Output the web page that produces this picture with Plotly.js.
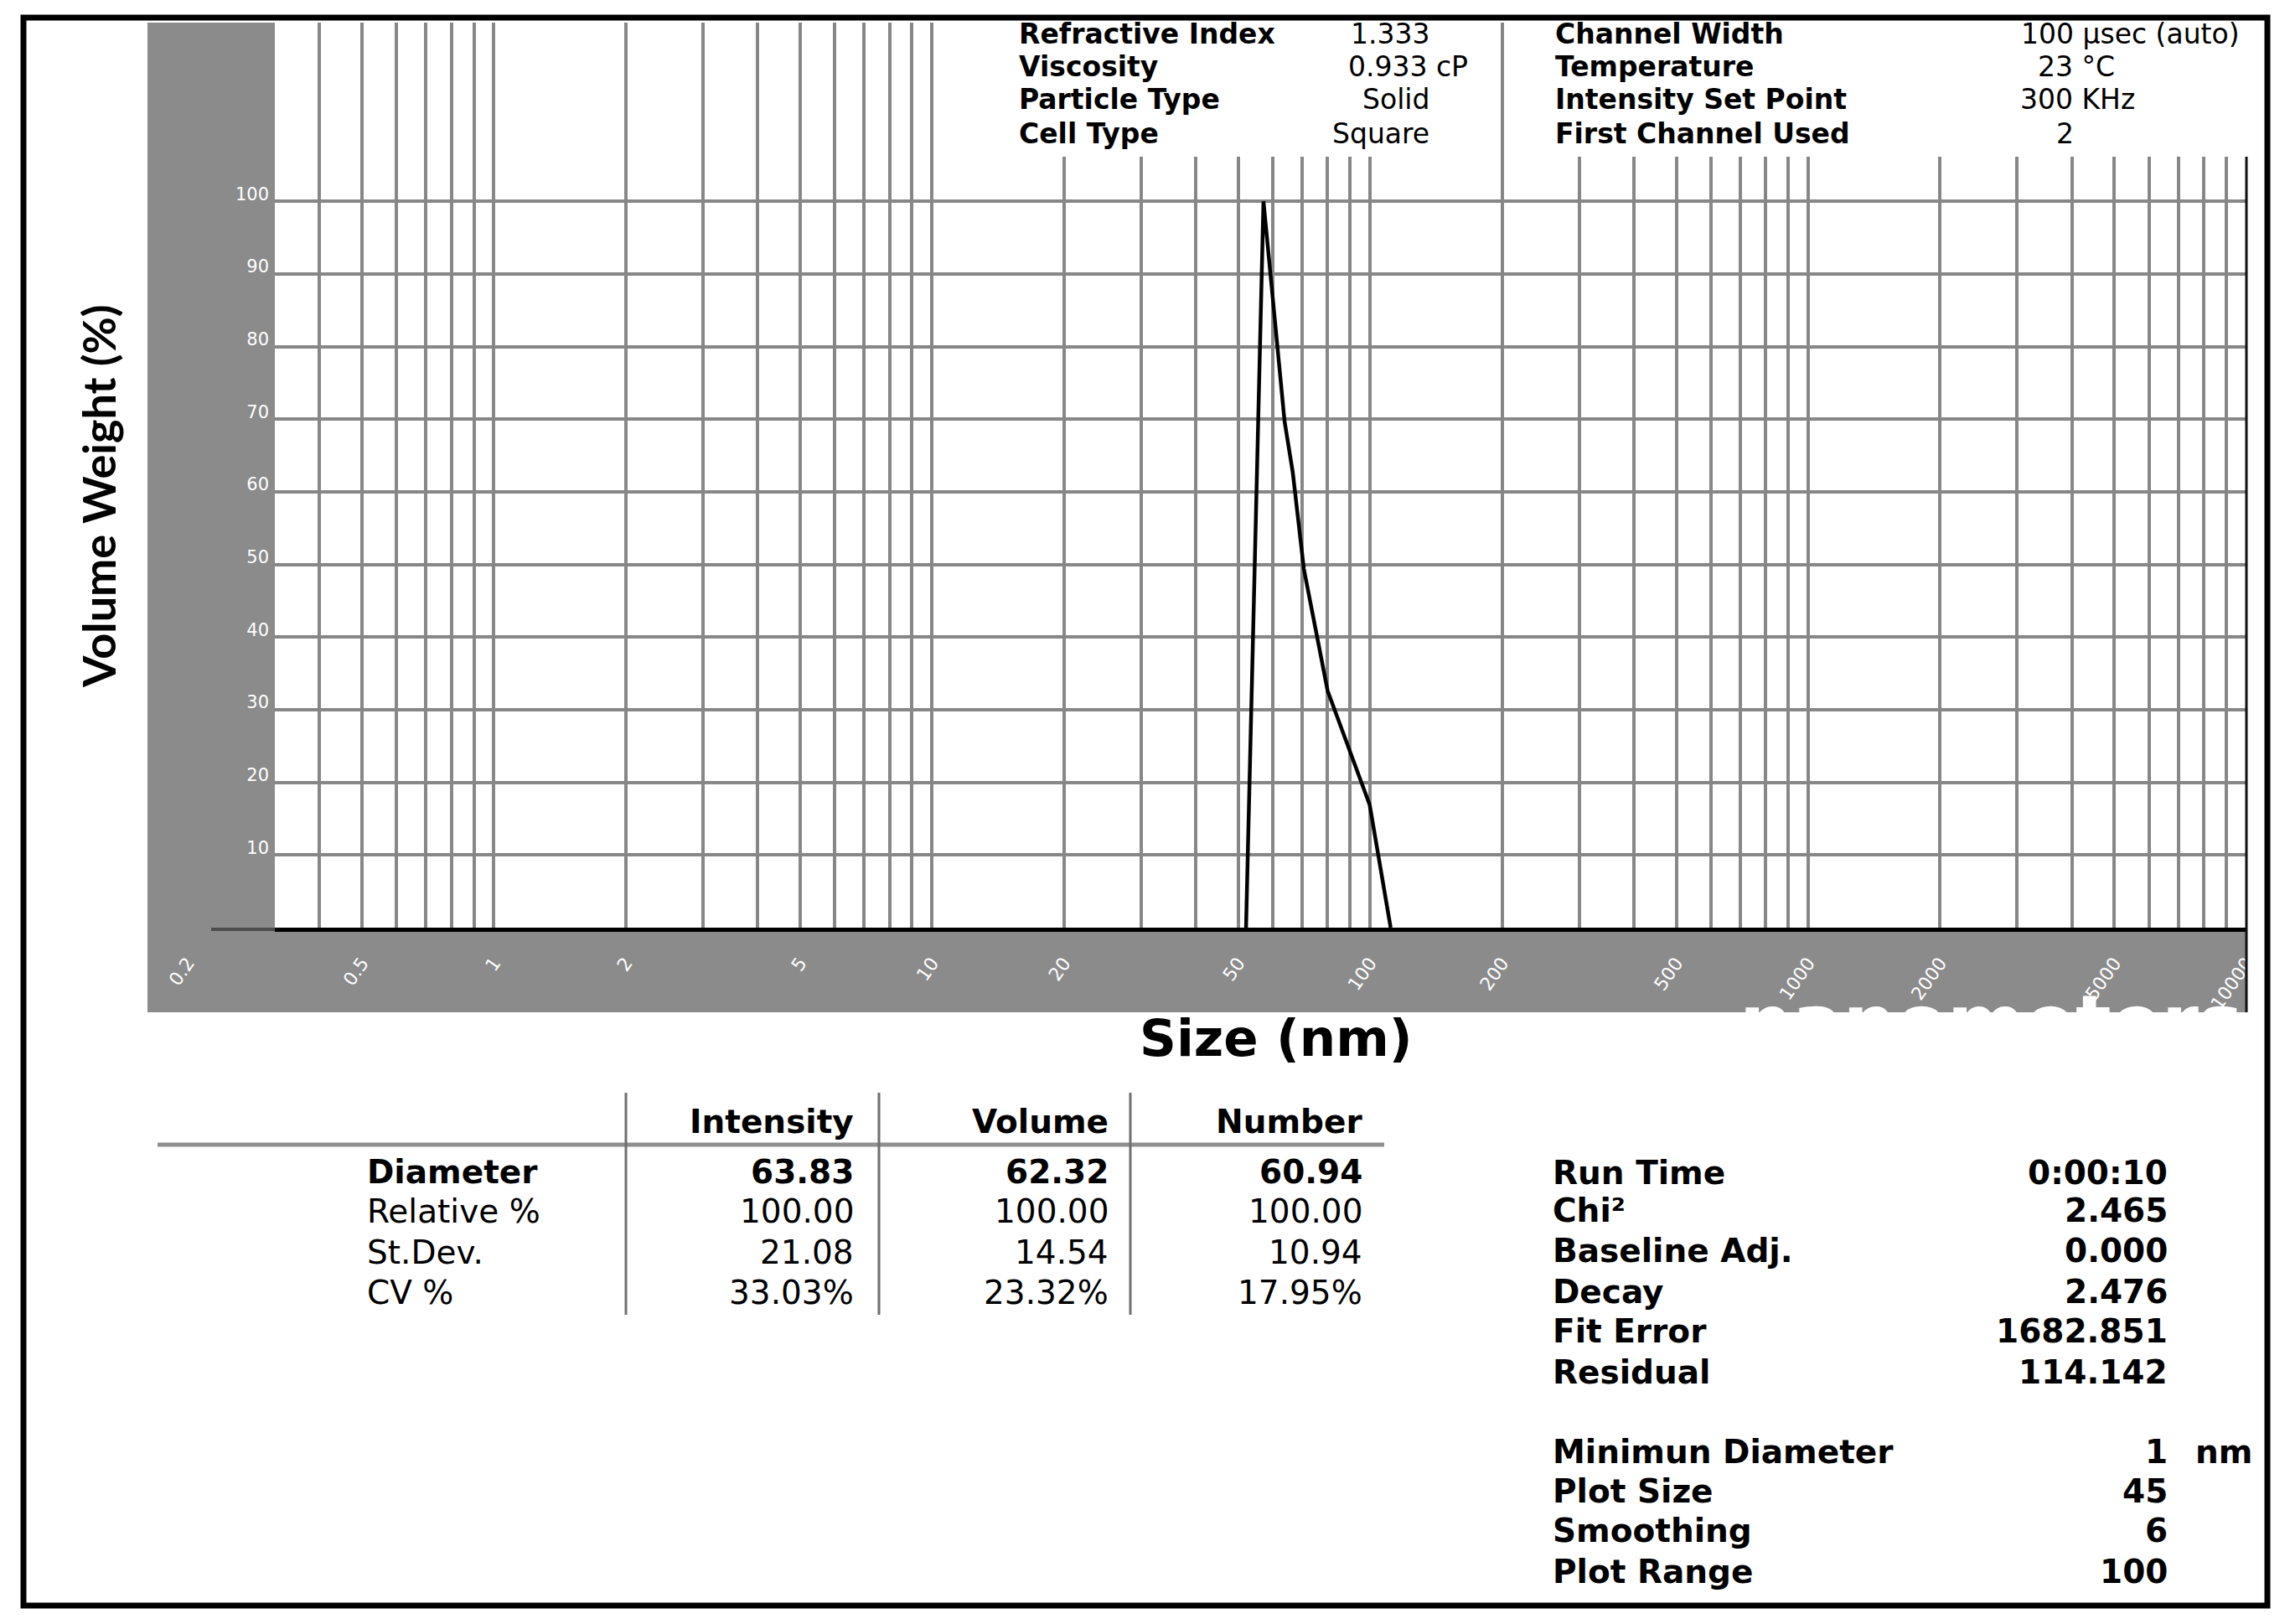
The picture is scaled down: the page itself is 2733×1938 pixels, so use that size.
<!DOCTYPE html>
<html><head><meta charset="utf-8">
<script src="https://cdn.plot.ly/plotly-3.0.1.min.js"></script>
<style>html,body{margin:0;padding:0;background:#fff;}#chart{width:2733px;height:1938px;}</style>
</head><body><div id="chart"></div>
<script>
// ---------- data ----------
const sizeNm = [52.1, 57.1, 63.8, 66.6, 70.6, 76.0, 80.0, 99.8, 111.4];
const volumeWeightPct = [0, 100, 69.7, 62.7, 49.4, 39.6, 32.6, 16.9, 0];

const xTickVals = [0.2, 0.5, 1, 2, 5, 10, 20, 50, 100, 200, 500, 1000, 2000, 5000, 10000];
const xTickText = ['0.2','0.5','1','2','5','10','20','50','100','200','500','1000','2000','5000','10000'];
const xGridVals = [0.4,0.5,0.6,0.7,0.8,0.9,1,2,3,4,5,6,7,8,9,10,20,30,40,50,60,70,80,90,
                   100,200,300,400,500,600,700,800,900,1000,2000,3000,4000,5000,6000,7000,8000,9000,10000];
const yTickVals = [10, 20, 30, 40, 50, 60, 70, 80, 90, 100];

const infoLeftLabels = ['Refractive Index', 'Viscosity', 'Particle Type', 'Cell Type'];
const infoLeftValues = ['1.333', '0.933 cP', 'Solid', 'Square'];
const infoRightLabels = ['Channel Width', 'Temperature', 'Intensity Set Point', 'First Channel Used'];
const infoRightValues = ['100 µsec (auto)', '23 °C', '300 KHz', '2'];

const tableColumns = ['Intensity', 'Volume', 'Number'];
const tableRowLabels = ['Diameter', 'Relative %', 'St.Dev.', 'CV %'];
const tableIntensity = ['63.83', '100.00', '21.08', '33.03%'];
const tableVolume = ['62.32', '100.00', '14.54', '23.32%'];
const tableNumber = ['60.94', '100.00', '10.94', '17.95%'];

const statsLabels = ['Run Time', 'Chi²', 'Baseline Adj.', 'Decay', 'Fit Error', 'Residual'];
const statsValues = ['0:00:10', '2.465', '0.000', '2.476', '1682.851', '114.142'];
const settingsLabels = ['Minimun Diameter', 'Plot Size', 'Smoothing', 'Plot Range'];
const settingsValues = ['1', '45', '6', '100'];

// ---------- geometry ----------
const W = 2733, H = 1938;
const ML = 176, MR = 52, MT = 27, MB = 831;
const PW = W - ML - MR, PH = H - MT - MB;
const px2x = p => (p - ML) / PW;
const py2y = p => (H - MB - p) / PH;
const plotLeft = 328;
const xHi = 4.0003, xLo = -0.5;
const pxPerDec = (W - MR - plotLeft) / (xHi - xLo);
const x2Lo = xHi - PW / pxPerDec;

const FONT = 'DejaVu Sans, Verdana, sans-serif';
const BAND = '#8b8b8b';
const GRID = '#878787';

const annotations = [];
function txt(text, px, py, xanchor, size, opts) {
  const a = Object.assign({
    text: text, xref: 'paper', yref: 'paper', x: px2x(px), y: py2y(py),
    xanchor: xanchor, yanchor: 'middle', showarrow: false,
    font: {family: FONT, size: size, color: '#000'}
  }, opts || {});
  annotations.push(a);
}

// titles
txt('<b>Volume Weight (%)</b>', 117, 592, 'center', 54,
    {textangle: -90, font: {family: 'Lato, Open Sans, sans-serif', size: 54, color: '#000'}});
txt('<b>Size (nm)</b>', 1523, 1238, 'center', 61);
txt('<b>nanometers</b>', 2376, 1166, 'center', 89,
    {yanchor: 'top', font: {family: FONT, size: 89, color: '#ffffff'}});

// top info blocks
const INFO = 33;
const infoRows = [40, 79, 118, 159];
infoLeftLabels.forEach((t, i) => txt('<b>' + t + '</b>', 1214, infoRows[i], 'left', INFO));
infoLeftValues.forEach((t, i) => {
  if (i === 1) txt(t, 1607, infoRows[i], 'left', INFO);
  else txt(t, 1708, infoRows[i], 'right', INFO);
});
const infoRightValX = [2410, 2430, 2409, 2452];
infoRightLabels.forEach((t, i) => txt('<b>' + t + '</b>', 1854, infoRows[i], 'left', INFO));
infoRightValues.forEach((t, i) => txt(t, infoRightValX[i], infoRows[i], 'left', INFO));

// results table
const TB = 39;
const colRight = [1021, 1325, 1628];
const tableRows = [1398, 1445, 1494, 1542];
tableColumns.forEach((t, i) => txt('<b>' + t + '</b>', colRight[i], 1338, 'right', TB));
tableRowLabels.forEach((t, i) => txt(i === 0 ? '<b>' + t + '</b>' : t, 436, tableRows[i], 'left', TB));
[tableIntensity, tableVolume, tableNumber].forEach((col, c) => {
  col.forEach((t, i) => txt(i === 0 ? '<b>' + t + '</b>' : t, colRight[c], tableRows[i], 'right', TB));
});

// stats
const ST = 39;
const statsRows = [1399, 1444, 1492, 1541, 1588, 1637];
statsLabels.forEach((t, i) => txt('<b>' + t + '</b>', 1851, statsRows[i], 'left', ST));
statsValues.forEach((t, i) => txt('<b>' + t + '</b>', 2589, statsRows[i], 'right', ST));
const settingsRows = [1732, 1779, 1826, 1875];
settingsLabels.forEach((t, i) => txt('<b>' + t + '</b>', 1851, settingsRows[i], 'left', ST));
settingsValues.forEach((t, i) => txt('<b>' + t + '</b>', 2589, settingsRows[i], 'right', ST));
txt('<b>nm</b>', 2618, settingsRows[0], 'left', ST);

// ---------- shapes ----------
const shapes = [
  {type: 'rect', xref: 'paper', yref: 'paper', x0: px2x(176), x1: px2x(plotLeft), y0: py2y(1208), y1: py2y(27),
   fillcolor: BAND, line: {width: 0}, layer: 'below'},
  {type: 'rect', xref: 'paper', yref: 'paper', x0: px2x(176), x1: px2x(2681), y0: py2y(1208), y1: py2y(1107),
   fillcolor: BAND, line: {width: 0}, layer: 'below'},
  {type: 'rect', xref: 'paper', yref: 'paper', x0: px2x(1188), x1: px2x(1784), y0: py2y(187), y1: py2y(26),
   fillcolor: '#ffffff', line: {width: 0}, layer: 'above'},
  {type: 'rect', xref: 'paper', yref: 'paper', x0: px2x(1800), x1: px2x(2686), y0: py2y(187), y1: py2y(26),
   fillcolor: '#ffffff', line: {width: 0}, layer: 'above'},
  {type: 'line', xref: 'paper', yref: 'paper', x0: px2x(2681), x1: px2x(2681), y0: py2y(1208), y1: py2y(187),
   line: {color: '#111', width: 3}, layer: 'above'},
  {type: 'line', xref: 'paper', yref: 'paper', x0: px2x(252), x1: px2x(plotLeft), y0: py2y(1109), y1: py2y(1109),
   line: {color: '#4d4d4d', width: 4}, layer: 'above'},
  {type: 'line', xref: 'paper', yref: 'paper', x0: px2x(188), x1: px2x(1652), y0: py2y(1366), y1: py2y(1366),
   line: {color: '#8f8f8f', width: 5}, layer: 'above'},
  {type: 'line', xref: 'paper', yref: 'paper', x0: px2x(747), x1: px2x(747), y0: py2y(1569), y1: py2y(1304),
   line: {color: '#6f6f6f', width: 3}, layer: 'above'},
  {type: 'line', xref: 'paper', yref: 'paper', x0: px2x(1049), x1: px2x(1049), y0: py2y(1569), y1: py2y(1304),
   line: {color: '#6f6f6f', width: 3}, layer: 'above'},
  {type: 'line', xref: 'paper', yref: 'paper', x0: px2x(1349), x1: px2x(1349), y0: py2y(1569), y1: py2y(1304),
   line: {color: '#6f6f6f', width: 3}, layer: 'above'},
  {type: 'rect', xref: 'paper', yref: 'paper', x0: px2x(28), x1: px2x(2706), y0: py2y(1916), y1: py2y(21),
   fillcolor: 'rgba(0,0,0,0)', line: {color: '#000', width: 7}, layer: 'above'}
];

// ---------- traces ----------
const traces = [
  {type: 'scatter', mode: 'lines', x: sizeNm, y: volumeWeightPct, xaxis: 'x', yaxis: 'y',
   line: {color: '#000', width: 4.5}, hoverinfo: 'skip', showlegend: false},
  {type: 'scatter', mode: 'markers', x: [xTickVals[0]], y: [null], xaxis: 'x2', yaxis: 'y2',
   marker: {opacity: 0}, hoverinfo: 'skip', showlegend: false}
];

const layout = {
  width: W, height: H, autosize: false,
  margin: {l: ML, r: MR, t: MT, b: MB, pad: 0},
  paper_bgcolor: '#ffffff', plot_bgcolor: 'rgba(0,0,0,0)',
  showlegend: false,
  xaxis: {
    type: 'log', range: [xLo, xHi], domain: [px2x(plotLeft), 1], anchor: 'y',
    tickmode: 'array', tickvals: xGridVals, showticklabels: false, ticks: '',
    showgrid: true, gridcolor: GRID, gridwidth: 4,
    showline: true, linecolor: '#000', linewidth: 5, zeroline: false, fixedrange: true
  },
  yaxis: {
    range: [0, 124.6], domain: [0, 1], anchor: 'x',
    tickmode: 'array', tickvals: yTickVals, ticktext: yTickVals.map(String), ticks: '',
    showgrid: true, gridcolor: GRID, gridwidth: 4, zeroline: false, showline: false,
    tickfont: {family: FONT, size: 21, color: '#ffffff'}, ticklabelstandoff: 6, ticklabelshift: -9,
    fixedrange: true
  },
  xaxis2: {
    type: 'log', range: [x2Lo, xHi], domain: [0, 1], anchor: 'y2',
    tickmode: 'array', tickvals: xTickVals, ticktext: xTickText, ticks: '', tickangle: -55,
    tickfont: {family: FONT, size: 22, color: '#ffffff'}, ticklabelstandoff: 24,
    showgrid: false, showline: false, zeroline: false, fixedrange: true
  },
  yaxis2: {range: [0, 1], domain: [0, 1], anchor: 'x2', visible: false, showgrid: false, fixedrange: true},
  shapes: shapes,
  annotations: annotations
};

Plotly.newPlot('chart', traces, layout, {displayModeBar: false, staticPlot: true});
</script></body></html>
